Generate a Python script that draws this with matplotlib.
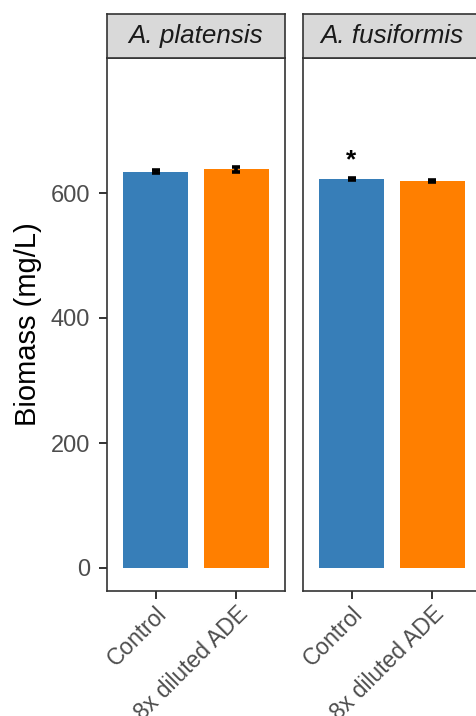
import matplotlib
matplotlib.use("Agg")
import matplotlib.pyplot as plt

plt.rcParams['font.family'] = ['Liberation Sans', 'DejaVu Sans']

# Biomass per species and treatment (mg/L), mean and error
species = ['A. platensis', 'A. fusiformis']
treatments = ['Control', '8x diluted ADE']
biomass = [[634, 638], [623, 619]]
errors = [[2, 4], [1.5, 1.5]]
signif = [['', ''], ['*', '']]
colors = ['#377EB8', '#FF7F00']

W, H = 476, 716
fig = plt.figure(figsize=(W / 100, H / 100), dpi=100)

panel_left = [107, 303]
panel_w = 178
panel_top, panel_bot = 58, 591
strip_top = 14
edge = '#333333'

for i, sp in enumerate(species):
    x0 = panel_left[i] / W
    ax = fig.add_axes([x0, (H - panel_bot) / H, panel_w / W, (panel_bot - panel_top) / H])
    pos = range(1, len(treatments) + 1)
    ax.bar(pos, biomass[i], width=0.8, color=colors, zorder=2)
    ax.errorbar(pos, biomass[i], yerr=errors[i], fmt='none', ecolor='black',
                elinewidth=2.6, capsize=3.0, capthick=2.6, zorder=3)
    for p, v, e, s in zip(pos, biomass[i], errors[i], signif[i]):
        if s:
            ax.text(p, v + e + 28, s, ha='center', va='center', fontsize=19,
                    fontweight='bold', color='black')
    ax.set_xlim(0.4, 2.6)
    ax.set_ylim(-36.8, 816)
    ax.set_xticks(list(pos))
    ax.set_xticklabels(treatments, rotation=45, ha='right', va='top',
                       rotation_mode='anchor', fontsize=16.5, color='#4D4D4D')
    ax.set_yticks([0, 200, 400, 600])
    if i == 0:
        ax.set_yticklabels(['0', '200', '400', '600'], fontsize=17, color='#4D4D4D')
        ax.set_ylabel('Biomass (mg/L)', fontsize=21, color='black', labelpad=6)
    else:
        ax.tick_params(axis='y', left=False, labelleft=False)
    ax.tick_params(axis='both', length=6, width=1.4, color=edge)
    ax.tick_params(axis='y', pad=6)
    ax.tick_params(axis='x', pad=2)
    for sp_ in ax.spines.values():
        sp_.set_color(edge)
        sp_.set_linewidth(1.2)

    # facet strip above the panel
    sx = fig.add_axes([x0, (H - panel_top) / H, panel_w / W, (panel_top - strip_top) / H])
    sx.set_facecolor('#D9D9D9')
    sx.set_xticks([])
    sx.set_yticks([])
    for sp_ in sx.spines.values():
        sp_.set_color(edge)
        sp_.set_linewidth(1.2)
    sx.text(0.5, 0.5, sp, transform=sx.transAxes, ha='center', va='center',
            fontsize=18.7, fontstyle='italic', color='#1A1A1A')

fig.savefig('out.png', dpi=100)
